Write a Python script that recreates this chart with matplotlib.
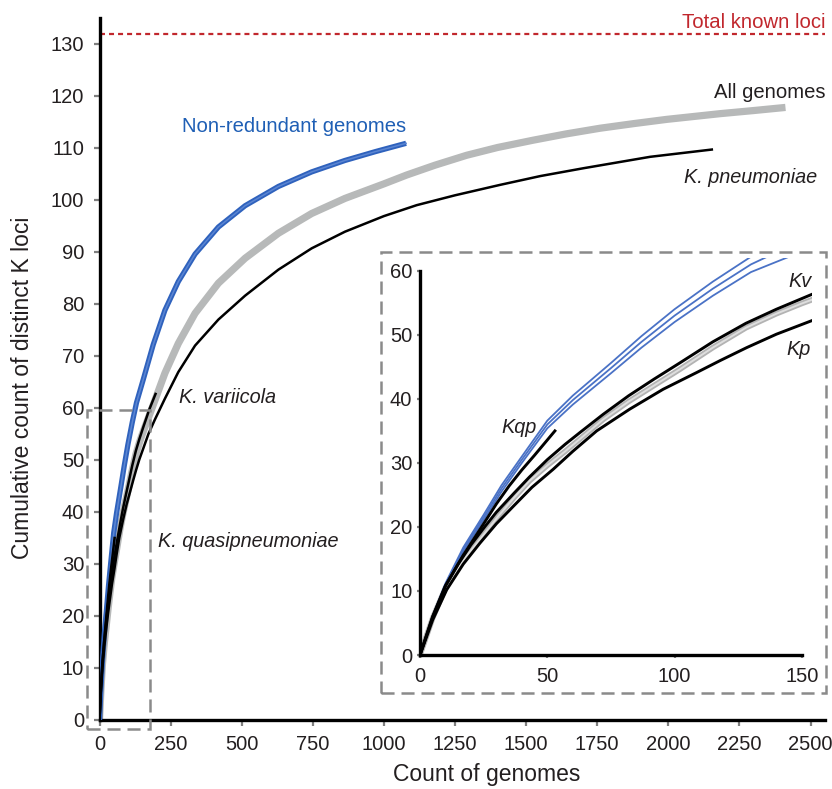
import matplotlib
matplotlib.use('Agg')
import matplotlib.pyplot as plt
from matplotlib.patches import Rectangle

plt.rcParams['font.family'] = ['Liberation Sans', 'DejaVu Sans']
plt.rcParams['lines.scale_dashes'] = False
plt.rcParams['lines.solid_joinstyle'] = 'round'

# curves (count of genomes, cumulative K loci)
nonred_x = [0, 5, 10, 17, 25, 32, 40, 50, 60, 75, 87, 100, 115, 130, 154, 189, 230,
            277, 336, 418, 512, 629, 746, 863, 970, 1078]
nonred_y = [0, 6, 11, 16.5, 21.5, 26, 30.5, 36, 39.8, 44.8, 48.9, 53, 57.2, 61, 65.5,
            72.2, 78.8, 84.3, 89.6, 94.8, 98.9, 102.6, 105.4, 107.6, 109.3, 110.9]
# edges of the non-redundant band, only visible in the zoomed panel
nonred_band_x = [0, 5, 10, 17, 25, 32, 40, 50, 60, 75, 87, 100, 115, 130, 150]
nonred_hi_y = [0, 6.1, 11.2, 16.8, 21.9, 26.5, 31.0, 36.6, 40.5, 45.6, 49.8, 54.0,
               58.3, 62.2, 65.6]
nonred_lo_y = [0, 5.9, 10.8, 16.2, 21.1, 25.5, 30.0, 35.4, 39.1, 44.0, 48.0, 52.0,
               56.1, 59.8, 63.0]

all_x = [0, 5, 10, 17, 25, 31, 37, 43, 50, 57, 63, 72, 82, 92, 102, 115, 128, 140, 150,
         195, 230, 277, 336, 418, 512, 629, 746, 863, 1000, 1080, 1180, 1291, 1400,
         1525, 1640, 1760, 1880, 1994, 2182, 2300, 2412]
all_y = [0, 5.8, 10.5, 14.8, 18.8, 21.8, 24.6, 27.2, 29.6, 31.8, 33.8, 36.8, 39.6, 42.1,
         44.6, 48, 51.1, 53.3, 54.9, 61.5, 66.7, 72.4, 78.2, 84, 88.8, 93.6, 97.4,
         100.3, 103.1, 104.8, 106.7, 108.6, 110.1, 111.5, 112.7, 113.8, 114.7, 115.5,
         116.6, 117.2, 117.8]

kp_x = [0, 5, 10.5, 17, 23.6, 30, 36.6, 44, 52.3, 60, 69.4, 82.4, 95.5, 108.6, 118,
        128.3, 140, 153.8, 172, 195, 230, 277, 336, 418, 512, 629, 746, 863, 1000,
        1115, 1250, 1408, 1550, 1701, 1936, 2153]
kp_y = [0, 5.5, 10.2, 14.2, 17.5, 20.5, 23.2, 26.2, 29, 31.8, 35, 38.4, 41.5, 44.1, 46,
        48, 50.1, 52.2, 55, 57.8, 61.8, 66.9, 72, 77, 81.6, 86.6, 90.7, 93.9, 96.9,
        99, 100.9, 102.9, 104.6, 106.1, 108.3, 109.7]

kv_x = [0, 5, 10, 15, 20, 25, 30, 37, 43, 50, 57, 63, 72, 82, 92, 102, 115, 128, 140,
        153.8, 175, 197]
kv_y = [0, 6, 10.8, 14.2, 17.2, 19.8, 22.3, 25.3, 27.8, 30.5, 32.9, 34.8, 37.6, 40.5,
        43.1, 45.6, 48.9, 51.8, 54.0, 56.3, 59.7, 62.7]

kqp_x = [0, 5, 10, 17, 25, 30, 35, 40, 45, 49, 53]
kqp_y = [0, 6, 10.8, 15.6, 20.5, 23.6, 26.4, 28.9, 31.2, 33.1, 35]

total_known = 132

main_xticks = list(range(0, 2501, 250))
main_yticks = list(range(0, 131, 10))
inset_xticks = [0, 50, 100, 150]
inset_yticks = [0, 10, 20, 30, 40, 50, 60]

txt = '#231f20'
blue = '#2f62bd'
grey = '#b7b9b9'
tickc = '#7f7f7f'

fig = plt.figure(figsize=(8.32, 7.89), dpi=100)
ax = fig.add_axes([0.1196, 0.0875, 0.872, 0.8897])

ax.plot(all_x, all_y, color=grey, lw=5.2, solid_capstyle='butt', zorder=2)
ax.plot(nonred_x, nonred_y, color=blue, lw=3.8, solid_capstyle='butt', zorder=3)
ax.plot(nonred_x, nonred_y, color='#5b85d2', lw=1.1, zorder=3)
ax.plot(kp_x, kp_y, color='black', lw=1.8, zorder=4)
ax.plot(kv_x, kv_y, color='black', lw=1.8, zorder=4)
ax.plot(kqp_x, kqp_y, color='black', lw=1.8, zorder=4)
ax.axhline(total_known, color='#c1272d', lw=1.6, linestyle=(0, (3.6, 2.9)), zorder=1)

# dashed box marking the zoomed region
ax.add_patch(Rectangle((-44, -1.8), 221.6, 61.4, fill=False, edgecolor='#8a8a8a',
                       lw=1.8, linestyle=(0, (9.4, 5)), clip_on=False, zorder=5))

ax.set_xlim(0, 2551)
ax.set_ylim(0, 135)
ax.set_xticks(main_xticks)
ax.set_yticks(main_yticks)
for s in ['top', 'right']:
    ax.spines[s].set_visible(False)
for s in ['left', 'bottom']:
    ax.spines[s].set_linewidth(2.4)
ax.tick_params(length=4, width=1.6, color=tickc, labelcolor=txt, labelsize=14.5, pad=7)

fs = 14.6
ax.text(2551, 133.0, 'Total known loci', color='#c1272d', fontsize=fs, ha='right', va='baseline')
ax.text(289, 113.0, 'Non-redundant genomes', color='#1f5fb5', fontsize=fs, ha='left', va='baseline')
ax.text(2551, 119.7, 'All genomes', color=txt, fontsize=fs, ha='right', va='baseline')
ax.text(2523, 103.3, 'K. pneumoniae', color=txt, fontsize=14.3, style='italic', ha='right', va='baseline')
ax.text(280, 61.0, 'K. variicola', color=txt, fontsize=14.3, style='italic', ha='left', va='baseline')
ax.text(207, 33.3, 'K. quasipneumoniae', color=txt, fontsize=14.3, style='italic', ha='left', va='baseline')

fig.text(0.0276, 0.5082, 'Cumulative count of distinct K loci', rotation=90, color=txt,
         fontsize=16.5, ha='center', va='center')
fig.text(0.5853, 0.0101, 'Count of genomes', color=txt, fontsize=16.5, ha='center', va='baseline')

# zoomed panel
fig.add_artist(Rectangle((0.4576, 0.1213), 0.5352, 0.5597, transform=fig.transFigure,
                         fill=False, edgecolor='#8a8a8a', lw=1.8, linestyle=(0, (9.4, 5))))
ins = fig.add_axes([0.5048, 0.1698, 0.4712, 0.5032])
ins.plot(all_x, all_y, color='#b3b3b3', lw=4, solid_capstyle='butt', zorder=2)
ins.plot(all_x, all_y, color='#dedede', lw=1.4, zorder=2)
ins.plot(nonred_band_x, nonred_hi_y, color='#4a72c6', lw=1.3, zorder=3)
ins.plot(nonred_x, nonred_y, color='#4a72c6', lw=1.3, zorder=3)
ins.plot(nonred_band_x, nonred_lo_y, color='#4a72c6', lw=1.3, zorder=3)
ins.plot(kp_x, kp_y, color='black', lw=2.1, zorder=4)
ins.plot(kv_x, kv_y, color='black', lw=2.1, zorder=4)
ins.plot(kqp_x, kqp_y, color='black', lw=2.1, zorder=4)
ins.set_xlim(0, 154)
ins.set_ylim(0, 62)
ins.set_xticks(inset_xticks)
ins.set_yticks(inset_yticks)
for s in ['top', 'right']:
    ins.spines[s].set_visible(False)
ins.spines['left'].set_bounds(0, 60)
ins.spines['bottom'].set_bounds(0, 150)
for s in ['left', 'bottom']:
    ins.spines[s].set_linewidth(2.4)
ins.tick_params(length=2.5, width=1.6, color=tickc, labelcolor=txt, labelsize=14.5)
ins.tick_params(axis='y', pad=3)
ins.tick_params(axis='x', pad=6)
ins.patch.set_alpha(0)

ins.text(153.8, 57.5, 'Kv', color=txt, fontsize=14.3, style='italic', ha='right', va='baseline')
ins.text(153.6, 46.9, 'Kp', color=txt, fontsize=14.3, style='italic', ha='right', va='baseline')
ins.text(32.1, 34.6, 'Kqp', color=txt, fontsize=14.3, style='italic', ha='left', va='baseline')

fig.savefig('out.png', dpi=100)
